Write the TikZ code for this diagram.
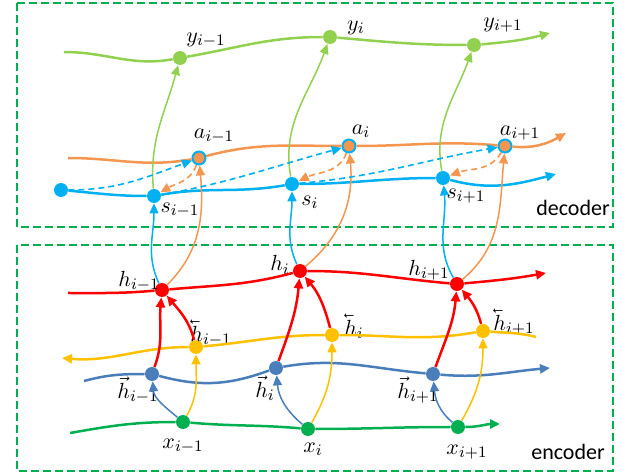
\documentclass[tikz,border=0pt]{standalone}
\usepackage{amsmath}
\usepackage{graphicx}
\usepackage{fontspec}
\newfontfamily\labelfont{Carlito}
\usetikzlibrary{arrows.meta}
\definecolor{ygreen}{HTML}{92D050}
\definecolor{aorange}{HTML}{F4964F}
\definecolor{scyan}{HTML}{00B0F0}
\definecolor{hred}{HTML}{FF0000}
\definecolor{byellow}{HTML}{FFC000}
\definecolor{fblue}{HTML}{4A7EBB}
\definecolor{xgreen}{HTML}{00B050}
\newcommand{\backvec}[1]{\mathord{\reflectbox{$\vec{\reflectbox{$#1$}}$}}}
\begin{document}
\begin{tikzpicture}[x=0.5pt,y=0.5pt,>={Triangle[length=5pt,width=4.5pt]},
dot/.style={circle,inner sep=0pt,minimum size=7pt},
adot/.style={dot,fill=aorange,draw=scyan,line width=1pt,minimum size=6.5pt},
main/.style={line width=1.25pt},
link/.style={line width=0.75pt},
dlink/.style={line width=0.8pt,dash pattern=on 3pt off 2pt},
lbl/.style={font=\fontsize{11}{13}\selectfont,inner sep=1pt},
tag/.style={font=\labelfont\fontsize{11}{13}\selectfont},
frame/.style={draw=xgreen,line width=1.2pt,dash pattern=on 4pt off 2pt}]
\useasboundingbox (0,0) rectangle (628,-476);
% frames
\draw[frame] (17,-3) rectangle (613,-227);
\draw[frame] (17,-245) rectangle (613,-471);
\node[tag] (dec) at (573,-208) {decoder};
\node[tag] (enc) at (568,-452) {encoder};
% decoder nodes
\node[dot,fill=ygreen] (y1) at (180,-58) {};
\node[dot,fill=ygreen] (y2) at (330,-37) {};
\node[dot,fill=ygreen] (y3) at (474,-45) {};
\node[adot] (a1) at (199,-158) {};
\node[adot] (a2) at (349,-146) {};
\node[adot] (a3) at (505,-146) {};
\node[dot,fill=scyan] (s0) at (61,-190) {};
\node[dot,fill=scyan] (s1) at (154,-196) {};
\node[dot,fill=scyan] (s2) at (292,-184) {};
\node[dot,fill=scyan] (s3) at (443,-178) {};
\coordinate (ystart) at (64,-52);
\coordinate (yend) at (550,-33);
\coordinate (astart) at (68,-158);
\coordinate (aend) at (566,-133);
\coordinate (send) at (556,-174);
% encoder nodes
\node[dot,fill=hred] (h1) at (162,-290) {};
\node[dot,fill=hred] (h2) at (300,-271) {};
\node[dot,fill=hred] (h3) at (457,-284) {};
\node[dot,fill=byellow] (b1) at (196,-347) {};
\node[dot,fill=byellow] (b2) at (332,-335) {};
\node[dot,fill=byellow] (b3) at (483,-331) {};
\node[dot,fill=fblue] (f1) at (152,-374) {};
\node[dot,fill=fblue] (f2) at (276,-368) {};
\node[dot,fill=fblue] (f3) at (433,-374) {};
\node[dot,fill=xgreen] (x1) at (183,-422) {};
\node[dot,fill=xgreen] (x2) at (308,-429) {};
\node[dot,fill=xgreen] (x3) at (458,-427) {};
\coordinate (hstart) at (68,-293);
\coordinate (hend) at (546,-273);
\coordinate (bstart) at (536,-337);
\coordinate (bend) at (62,-358);
\coordinate (fstart) at (84,-381);
\coordinate (fend) at (550,-368);
\coordinate (xstart) at (70,-433);
\coordinate (xend) at (500,-424);
% labels
\node[lbl] (ly1) at (206,-40) {$y_{i-1}$};
\node[lbl] (ly2) at (356,-28) {$y_{i}$};
\node[lbl] (ly3) at (503,-25) {$y_{i+1}$};
\node[lbl] (la1) at (214,-136) {$a_{i-1}$};
\node[lbl] (la2) at (361,-131) {$a_{i}$};
\node[lbl] (la3) at (520,-133) {$a_{i+1}$};
\node[lbl] (ls1) at (180,-210) {$s_{i-1}$};
\node[lbl] (ls2) at (310,-202) {$s_{i}$};
\node[lbl] (ls3) at (466,-196) {$s_{i+1}$};
\node[lbl] (lh1) at (139,-281) {$h_{i-1}$};
\node[lbl] (lh2) at (280,-265) {$h_{i}$};
\node[lbl] (lh3) at (429,-270) {$h_{i+1}$};
\node[lbl] (lb1) at (211,-333) {$\backvec{h}_{i-1}$};
\node[lbl] (lb2) at (354,-326) {$\backvec{h}_{i}$};
\node[lbl] (lb3) at (514,-322) {$\backvec{h}_{i+1}$};
\node[lbl] (lf1) at (138,-390) {$\vec{h}_{i-1}$};
\node[lbl] (lf2) at (265,-388) {$\vec{h}_{i}$};
\node[lbl] (lf3) at (418,-390) {$\vec{h}_{i+1}$};
\node[lbl] (lx1) at (183,-446) {$x_{i-1}$};
\node[lbl] (lx2) at (313,-449) {$x_{i}$};
\node[lbl] (lx3) at (467,-452) {$x_{i+1}$};
% decoder lines
\draw[main,ygreen,->] (ystart) to[out=0,in=190] (y1) to[out=10,in=180] (y2)
  to[out=-5,in=180] (y3) to[out=5,in=195] (yend);
\draw[main,aorange,->] (astart) to[out=0,in=190] (a1) to[out=15,in=180] (a2)
  to[out=0,in=175] (a3) to[out=-5,in=210] (aend);
\draw[main,scyan,->] (s0) to[out=-5,in=180] (s1) to[out=10,in=190] (s2)
  to[out=0,in=180] (s3) to[out=-15,in=195] (send);
% encoder lines
\draw[main,hred,->] (hstart) to[out=0,in=185] (h1) to[out=5,in=195] (h2)
  to[out=0,in=175] (h3) to[out=5,in=190] (hend);
\draw[main,byellow,->] (bstart) to[out=165,in=-5] (b3) to[out=190,in=0] (b2)
  to[out=180,in=5] (b1) to[out=180,in=-5] (bend);
\draw[main,fblue,->] (fstart) to[out=15,in=180] (f1) to[out=-15,in=200] (f2)
  to[out=10,in=175] (f3) to[out=-5,in=185] (fend);
\draw[main,xgreen,->] (xstart) to[out=10,in=180] (x1) to[out=-5,in=175] (x2)
  to[out=0,in=180] (x3) to[out=0,in=180] (xend);
% encoder links
\draw[link,fblue,->] (x1) to[out=140,in=-85] (f1);
\draw[link,fblue,->] (x2) to[out=140,in=-85] (f2);
\draw[link,fblue,->] (x3) to[out=140,in=-85] (f3);
\draw[link,byellow,->] (x1) to[out=60,in=-90] (b1);
\draw[link,byellow,->] (x2) to[out=60,in=-90] (b2);
\draw[link,byellow,->] (x3) to[out=60,in=-90] (b3);
\draw[main,hred,->] (f1) to[out=70,in=-95] (h1);
\draw[main,hred,->] (f2) to[out=70,in=-95] (h2);
\draw[main,hred,->] (f3) to[out=70,in=-95] (h3);
\draw[main,hred,->] (b1) to[out=105,in=-50] (h1);
\draw[main,hred,->] (b2) to[out=105,in=-50] (h2);
\draw[main,hred,->] (b3) to[out=105,in=-50] (h3);
% encoder to decoder
\draw[link,scyan,->] (h1) to[out=115,in=-90] (s1);
\draw[link,scyan,->] (h2) to[out=115,in=-90] (s2);
\draw[link,scyan,->] (h3) to[out=120,in=-85] (s3);
\draw[link,aorange,->] (h1) to[out=45,in=-85] (a1);
\draw[link,aorange,->] (h2) to[out=40,in=-85] (a2);
\draw[link,aorange,->] (h3) to[out=40,in=-95] (a3);
% decoder links
\draw[link,ygreen,->] (s1) to[out=95,in=-105] (y1);
\draw[link,ygreen,->] (s2) to[out=100,in=-110] (y2);
\draw[link,ygreen,->] (s3) to[out=100,in=-110] (y3);
\draw[dlink,scyan,->] (s0) to[out=0,in=200] (a1);
\draw[dlink,scyan,->] (s1) to[out=10,in=195] (a2);
\draw[dlink,scyan,->] (s2) to[out=5,in=190] (a3);
\draw[dlink,aorange,->] (a1) to[out=-110,in=30] (s1);
\draw[dlink,aorange,->] (a2) to[out=-110,in=25] (s2);
\draw[dlink,aorange,->] (a3) to[out=-120,in=20] (s3);
\end{tikzpicture}
\end{document}
